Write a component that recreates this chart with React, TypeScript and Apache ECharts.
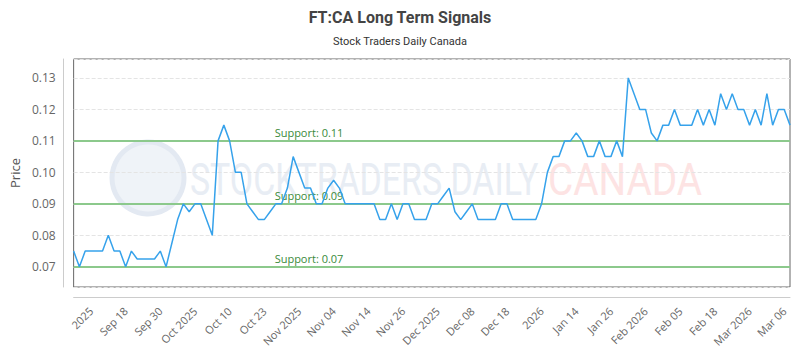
import React, { useEffect, useRef } from "react";
import * as echarts from "echarts";

const titleText = "FT:CA Long Term Signals";
const subtitleText = "Stock Traders Daily Canada";

const priceValues: number[] = [
  0.075, 0.07, 0.075, 0.075, 0.075, 0.075, 0.08, 0.075, 0.075, 0.07,
  0.075, 0.0725, 0.0725, 0.0725, 0.0725, 0.075, 0.07, 0.0775, 0.085, 0.09,
  0.0875, 0.09, 0.09, 0.085, 0.08, 0.11, 0.115, 0.11, 0.1, 0.1,
  0.09, 0.0875, 0.085, 0.085, 0.0875, 0.09, 0.09, 0.095, 0.105, 0.1,
  0.095, 0.095, 0.09, 0.09, 0.095, 0.0975, 0.095, 0.09, 0.09, 0.09,
  0.09, 0.09, 0.09, 0.085, 0.085, 0.09, 0.085, 0.09, 0.09, 0.085,
  0.085, 0.085, 0.09, 0.09, 0.0925, 0.095, 0.0875, 0.085, 0.0875, 0.09,
  0.085, 0.085, 0.085, 0.085, 0.09, 0.09, 0.085, 0.085, 0.085, 0.085,
  0.085, 0.09, 0.1, 0.105, 0.105, 0.11, 0.11, 0.1125, 0.11, 0.105,
  0.105, 0.11, 0.105, 0.105, 0.11, 0.105, 0.13, 0.125, 0.12, 0.12,
  0.1125, 0.11, 0.115, 0.115, 0.12, 0.115, 0.115, 0.115, 0.12, 0.115,
  0.12, 0.115, 0.125, 0.12, 0.125, 0.12, 0.12, 0.115, 0.12, 0.115,
  0.125, 0.115, 0.12, 0.12, 0.115,
];

const tickLabels: string[] = [
  "2025", "Sep 18", "Sep 30", "Oct 2025", "Oct 10", "Oct 23", "Nov 2025",
  "Nov 04", "Nov 14", "Nov 26", "Dec 2025", "Dec 08", "Dec 18", "2026",
  "Jan 14", "Jan 26", "Feb 2026", "Feb 05", "Feb 18", "Mar 2026", "Mar 06",
];
const firstLabelIndex = 3;
const labelStep = 6;

const supportLevels: number[] = [0.11, 0.09, 0.07];

// trading-day categories (weekdays), one per price value
const startDate = "2025-09-12";
function buildDates(start: string, count: number): string[] {
  const out: string[] = [];
  const d = new Date(start + "T00:00:00Z");
  while (out.length < count) {
    const wd = d.getUTCDay();
    if (wd !== 0 && wd !== 6) out.push(d.toISOString().slice(0, 10));
    d.setUTCDate(d.getUTCDate() + 1);
  }
  return out;
}
const categories = buildDates(startDate, priceValues.length);

export default function App() {
  const ref = useRef<HTMLDivElement>(null);
  useEffect(() => {
    if (!ref.current) return;
    const chart = echarts.init(ref.current, undefined, { renderer: "svg" });
    const font = "'Open Sans', sans-serif";
    chart.setOption({
      animation: false,
      backgroundColor: "#ffffff",
      textStyle: { fontFamily: font },
      title: {
        text: titleText,
        subtext: subtitleText,
        left: "center",
        top: 4,
        itemGap: 11,
        textStyle: { fontSize: 16, fontWeight: "bold", color: "#444", fontFamily: "Roboto, sans-serif" },
        subtextStyle: { fontSize: 11, color: "#333", fontFamily: "Roboto, sans-serif" },
      },
      grid: {
        left: 70,
        right: 10,
        top: 59,
        bottom: 63,
        show: true,
        borderColor: "#666",
        borderWidth: 1,
        containLabel: false,
      },
      graphic: [
        {
          type: "circle",
          silent: true,
          z: 0,
          shape: { cx: 148, cy: 178, r: 36 },
          style: { fill: "#eff3f8", stroke: "#e3e9f2", lineWidth: 5 },
        },
        {
          type: "text",
          silent: true,
          z: 0,
          x: 190,
          y: 180,
          scaleX: 0.77,
          style: {
            text: "STOCKTRADERS DAILY",
            font: "44px Roboto, sans-serif",
            fill: "#e8edf4",
            verticalAlign: "middle",
          },
        },
        {
          type: "text",
          silent: true,
          z: 0,
          x: 548,
          y: 180,
          scaleX: 0.88,
          style: {
            text: "CANADA",
            font: "44px Roboto, sans-serif",
            fill: "#fde3e3",
            verticalAlign: "middle",
          },
        },
      ],
      xAxis: {
        type: "category",
        data: categories,
        boundaryGap: false,
        offset: 10,
        axisLine: { show: true, lineStyle: { color: "#ccc" } },
        axisTick: { show: false },
        splitLine: { show: false },
        axisLabel: {
          rotate: 45,
          fontSize: 11,
          color: "#666",
          margin: 12,
          interval: (i: number) => i >= firstLabelIndex && (i - firstLabelIndex) % labelStep === 0,
          formatter: (_v: string, i: number) => tickLabels[(i - firstLabelIndex) / labelStep] ?? "",
        },
      },
      yAxis: {
        type: "value",
        min: 0.0636,
        max: 0.136,
        splitNumber: 7,
        offset: 10,
        name: "Price",
        nameLocation: "middle",
        nameGap: 40,
        nameTextStyle: { fontSize: 13, color: "#555" },
        axisLine: { show: true, lineStyle: { color: "#ccc" } },
        axisTick: { show: false },
        axisLabel: {
          fontSize: 12,
          color: "#666",
          formatter: (v: number) =>
            Math.abs(v * 100 - Math.round(v * 100)) < 1e-6 ? v.toFixed(2) : "",
        },
        splitLine: { show: true, lineStyle: { color: "#e4e4e4", type: "dashed" } },
      },
      series: [
        {
          type: "line",
          data: priceValues,
          showSymbol: false,
          z: 3,
          lineStyle: { color: "#36a2eb", width: 1.5 },
          itemStyle: { color: "#36a2eb" },
          markLine: {
            silent: true,
            symbol: "none",
            z: 2,
            lineStyle: { color: "#8cc98c", width: 2, type: "solid" },
            label: {
              position: "insideStartTop",
              distance: [201, 3],
              color: "#3a8a3a",
              fontSize: 11,
              formatter: (p: any) => "Support: " + p.value,
            },
            data: supportLevels.map((v) => ({ yAxis: v })),
          },
        },
      ],
    });
    return () => chart.dispose();
  }, []);
  return (
    <div
      ref={ref}
      style={{ position: "absolute", left: 0, top: 0, width: 800, height: 350 }}
    />
  );
}
